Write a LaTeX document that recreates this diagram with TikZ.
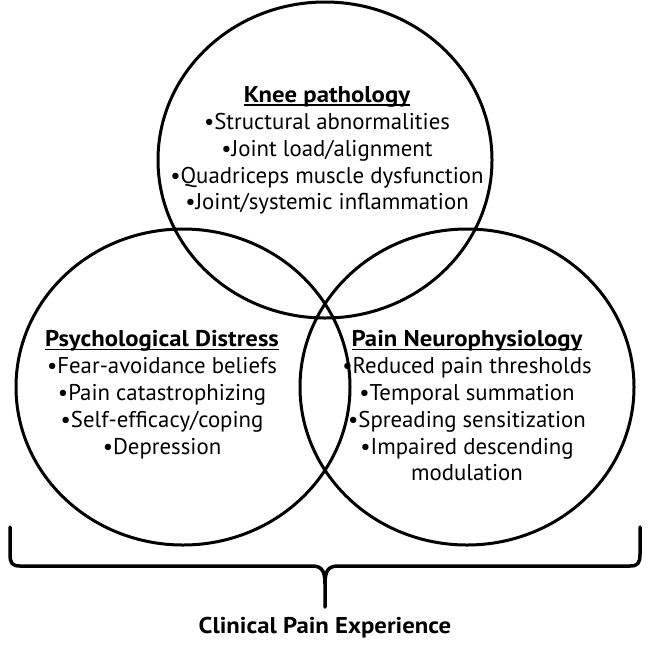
\documentclass[tikz,border=0pt]{standalone}
\usepackage{fontspec}
\setmainfont{PT Sans}[BoldFeatures={FakeStretch=1.085}]
\usetikzlibrary{shapes.geometric}
\newcommand\myul[1]{\setbox0\hbox{#1}\rlap{\rule[-3pt]{\wd0}{1.4pt}}\box0}
\tikzset{
  venn/.style={draw=black, line width=3pt, ellipse, minimum width=334pt, minimum height=316pt, inner sep=0pt},
  txt/.style={align=center, inner sep=0pt, anchor=north, font=\fontsize{22.8}{26.8}\selectfont},
  brace/.style={line width=3.5pt, line join=round, line cap=round},
  lbl/.style={inner sep=0pt, font=\fontsize{22.8}{26}\selectfont\bfseries}
}
\begin{document}
\begin{tikzpicture}[x=1pt,y=-1pt]
\useasboundingbox (0,0) rectangle (650,649);
\node[venn] (knee) at (325,160) {};
\node[venn] (psy) at (183,387) {};
\node[venn] (neuro) at (467,387) {};
\node[txt] (ktxt) at (327,86.5) {\textbf{\myul{Knee pathology}}\\
  •Structural abnormalities\\
  •Joint load/alignment\\
  •Quadriceps muscle dysfunction\\
  •Joint/systemic inflammation};
\node[txt] (ptxt) at (162,330.5) {\textbf{\myul{Psychological Distress}}\\
  •Fear-avoidance beliefs\\
  •Pain catastrophizing\\
  •Self-efficacy/coping\\
  •Depression};
\node[txt] (ntxt) at (467,330.5) {\textbf{\myul{Pain Neurophysiology}}\\
  •Reduced pain thresholds\\
  •Temporal summation\\
  •Spreading sensitization\\
  •Impaired descending\\
  modulation};
\coordinate (bl) at (10,527);
\coordinate (br) at (640,527);
\coordinate (tip) at (325,607);
\draw[brace] (bl) -- (10,554) .. controls (10,563) and (12,566) .. (20,566)
  -- (312,566) .. controls (322,566) and (325,571) .. (325,584) -- (tip)
  -- (325,584) .. controls (325,571) and (328,566) .. (338,566)
  -- (630,566) .. controls (638,566) and (640,563) .. (640,554) -- (br);
\node[lbl] (clin) at (325,628) {Clinical Pain Experience};
\end{tikzpicture}
\end{document}
